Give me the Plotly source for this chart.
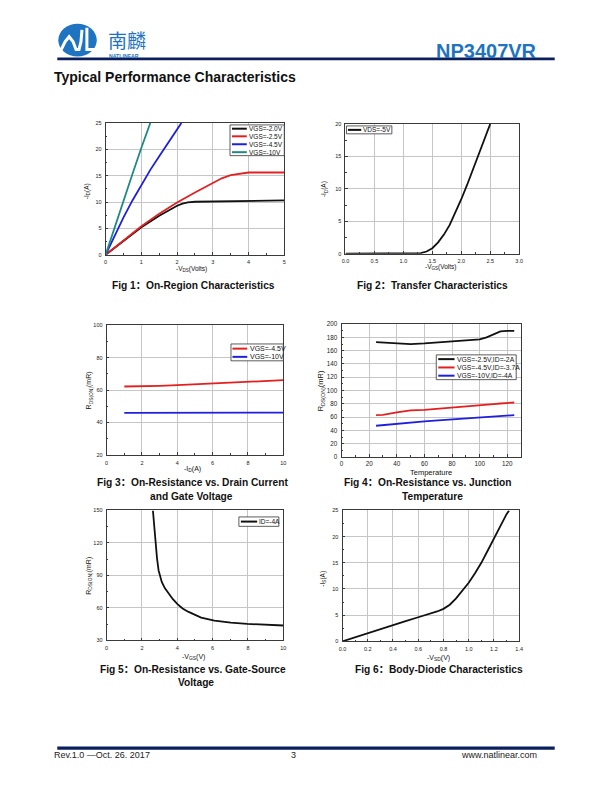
import plotly.graph_objects as go

W, H = 612, 792


def px(x):
    return x / W


def py(y):
    return 1 - y / H


# ---------------- data ----------------
# Fig 1: On-region characteristics  (-VDS vs -ID)
f1_labels = ["VGS=-2.0V", "VGS=-2.5V", "VGS=-4.5V", "VGS=-10V"]
f1_colors = ["#111111", "#e3201f", "#1f1fe0", "#1f8a84"]
f1_x_20 = [0, 0.5, 1, 1.5, 2, 2.15, 2.3, 2.5, 3, 3.5, 4, 4.5, 5]
f1_y_20 = [0, 2.65, 5.2, 7.4, 9.3, 9.7, 9.95, 10.05, 10.1, 10.15, 10.2, 10.25, 10.3]
f1_x_25 = [0, 0.5, 1, 1.5, 2, 2.5, 3, 3.25, 3.5, 3.75, 4, 4.5, 5]
f1_y_25 = [0, 2.75, 5.4, 7.8, 9.9, 11.8, 13.7, 14.5, 15.1, 15.35, 15.6, 15.6, 15.6]
f1_x_45 = [0, 0.25, 0.5, 0.75, 1, 1.25, 1.5, 1.75, 2, 2.12]
f1_y_45 = [0, 3.6, 7.1, 10.3, 13.3, 16.1, 18.7, 21.3, 23.7, 25]
f1_x_10 = [0, 0.25, 0.5, 0.75, 1, 1.25]
f1_y_10 = [0, 5.2, 10.3, 15.3, 20.3, 25]

# Fig 2: Transfer characteristics
f2_label = "VDS=-5V"
f2_vgs = [0, 0.5, 1.0, 1.2, 1.3, 1.4, 1.5, 1.6, 1.7, 1.8, 1.9, 2.0, 2.1, 2.2, 2.3, 2.4, 2.5]
f2_id = [0, 0, 0, 0.02, 0.1, 0.35, 0.85, 1.75, 2.95, 4.45, 6.3, 8.4, 10.6, 12.9, 15.2, 17.6, 20]

# Fig 3: Rds(on) vs drain current
f3_labels = ["VGS=-4.5V", "VGS=-10V"]
f3_colors = ["#e3201f", "#1f1fe0"]
f3_id = [1, 2, 3, 4, 5, 6, 7, 8, 9, 10]
f3_r45 = [62.2, 62.3, 62.6, 63.0, 63.5, 64.0, 64.5, 65.0, 65.5, 66.1]
f3_r10 = [45.9, 45.9, 46.1, 46.2, 46.2, 46.2, 46.1, 46.1, 46.1, 46.1]

# Fig 4: Rds(on) vs junction temperature
f4_labels = ["VGS=-2.5V,ID=-2A", "VGS=-4.5V,ID=-3.7A", "VGS=-10V,ID=-4A"]
f4_colors = ["#111111", "#e3201f", "#1f1fe0"]
f4_t = [25, 30, 40, 50, 60, 70, 80, 90, 100, 105, 110, 115, 120, 125]
f4_r25 = [173, 172.5, 170.5, 170, 171, 172.5, 174, 175, 177, 180, 185, 189, 190, 190]
f4_r45 = [63, 63.5, 67, 70, 71, 72.5, 74.5, 76, 77.5, 78.5, 79.5, 80.5, 81, 82]
f4_r10 = [47, 48, 50.5, 52.5, 53.5, 55, 56.5, 58, 59.5, 60.2, 61, 61.8, 62.5, 63]

# Fig 5: Rds(on) vs gate-source voltage
f5_label = "ID=-4A"
f5_vgs = [2.62, 2.7, 2.79, 2.85, 2.94, 3.05, 3.12, 3.3, 3.49, 3.75, 4.01, 4.3, 4.61,
          5.0, 5.35, 6.1, 7.03, 7.96, 8.88, 10]
f5_r = [150, 133, 119, 106, 94.6, 88, 83.9, 78, 73.3, 68, 63.5, 59.5, 56.5,
        53.5, 51, 48.3, 46.4, 45.2, 44.6, 43.7]

# Fig 6: Body-diode characteristics
f6_vsd = [0, 0.1, 0.2, 0.3, 0.4, 0.5, 0.6, 0.7, 0.75, 0.8, 0.85, 0.9, 0.95, 1.0,
          1.05, 1.1, 1.15, 1.2, 1.25, 1.3, 1.32]
f6_is = [0, 0.8, 1.6, 2.35, 3.1, 3.85, 4.6, 5.3, 5.7, 6.2, 7.0, 8.2, 9.6, 11.2,
         13.0, 15.0, 17.3, 19.7, 22.1, 24.3, 25]

captions = [
    ("Fig 1：On-Region Characteristics", 192, 284),
    ("Fig 2：Transfer Characteristics", 434, 284),
    ("Fig 3：On-Resistance vs. Drain Current", 191, 483),
    ("and Gate Voltage", 190, 497),
    ("Fig 4：On-Resistance vs. Junction", 430, 483),
    ("Temperature", 434, 497),
    ("Fig 5：On-Resistance vs. Gate-Source", 192, 671),
    ("Voltage", 195, 685),
    ("Fig 6：Body-Diode Characteristics", 441, 671),
]

# ---------------- figure ----------------
fig = go.Figure()
shapes = []
annos = []

BASE = dict(showline=True, mirror=True, linecolor="#3a3a3a", linewidth=1,
            showgrid=True, gridcolor="#c6c6c6", gridwidth=1, zeroline=False,
            ticks="inside", ticklen=2.5, tickwidth=0.8, tickcolor="#3a3a3a",
            tickfont=dict(family="Arial", size=5.5, color="#222"),
            ticklabelstandoff=2)

panels = {
    # id: (x0, y0, x1, y1) px, xrange, xdtick, yrange, ydtick, xfmt
    1: ((103, 120, 284, 253), [0, 5], 1, [0, 25], 5, None),
    2: ((346, 121, 522, 252), [0, 3], 0.5, [0, 20], 5, ".1f"),
    3: ((104, 324, 283, 455), [0, 10], 2, [20, 100], 20, None),
    4: ((342, 323, 524, 457), [0, 130], 20, [0, 200], 20, None),
    5: ((104, 511, 283, 642), [0, 10], 2, [30, 150], 30, None),
    6: ((343, 511, 522, 643), [0, 1.4], 0.2, [0, 25], 5, ".1f"),
}

layout_axes = {}
for i, (rect, xr, xd, yr, yd, xfmt) in panels.items():
    x0, y0, x1, y1 = rect
    sfx = "" if i == 1 else str(i)
    xa = dict(BASE, domain=[px(x0), px(x1)], range=xr, dtick=xd, tick0=xr[0],
              anchor="y" + sfx,
              minor=dict(ticks="inside", ticklen=1.5, tickcolor="#3a3a3a",
                         dtick=xd / 2, showgrid=False))
    ya = dict(BASE, domain=[py(y1), py(y0)], range=yr, dtick=yd, tick0=yr[0],
              anchor="x" + sfx,
              minor=dict(ticks="inside", ticklen=1.5, tickcolor="#3a3a3a",
                         dtick=yd / 2, showgrid=False))
    if xfmt:
        xa["tickformat"] = xfmt
    if i == 4:
        xa["tickfont"] = dict(family="Arial", size=6.3, color="#222")
        ya["tickfont"] = dict(family="Arial", size=6.3, color="#222")
        xa["ticklabelstandoff"] = 0
    layout_axes["xaxis" + sfx] = xa
    layout_axes["yaxis" + sfx] = ya


def line(x, y, color, ax, w=1.8):
    sfx = "" if ax == 1 else str(ax)
    fig.add_trace(go.Scatter(x=x, y=y, mode="lines", showlegend=False,
                             line=dict(color=color, width=w),
                             xaxis="x" + sfx, yaxis="y" + sfx,
                             hoverinfo="skip"))


line(f1_x_20, f1_y_20, f1_colors[0], 1)
line(f1_x_25, f1_y_25, f1_colors[1], 1)
line(f1_x_45, f1_y_45, f1_colors[2], 1)
line(f1_x_10, f1_y_10, f1_colors[3], 1)
line(f2_vgs, f2_id, "#111111", 2)
line(f3_id, f3_r45, f3_colors[0], 3)
line(f3_id, f3_r10, f3_colors[1], 3)
line(f4_t, f4_r25, f4_colors[0], 4)
line(f4_t, f4_r45, f4_colors[1], 4)
line(f4_t, f4_r10, f4_colors[2], 4)
line(f5_vgs, f5_r, "#111111", 5)
line(f6_vsd, f6_is, "#111111", 6)


def legend(box, items, lx0, lx1, tx, rows, fs=6.5):
    bx0, by0, bx1, by1 = box
    shapes.append(dict(type="rect", xref="paper", yref="paper",
                       x0=px(bx0), x1=px(bx1), y0=py(by1), y1=py(by0),
                       line=dict(color="#333", width=0.8), fillcolor="white",
                       layer="above"))
    for (lab, col), ry in zip(items, rows):
        shapes.append(dict(type="line", xref="paper", yref="paper",
                           x0=px(lx0), x1=px(lx1), y0=py(ry), y1=py(ry),
                           line=dict(color=col, width=2), layer="above"))
        annos.append(dict(text=lab, xref="paper", yref="paper", x=px(tx),
                          y=py(ry), xanchor="left", yanchor="middle",
                          showarrow=False,
                          font=dict(family="Arial", size=fs, color="#111")))


legend((229, 122, 284, 153), list(zip(f1_labels, f1_colors)), 231, 246, 246.5,
       [125.8, 133.5, 141.5, 149.5])
legend((347, 123, 393, 131), [(f2_label, "#111111")], 348.5, 362, 362, [127])
legend((230, 343, 283, 360), list(zip(f3_labels, f3_colors)), 231.5, 246.5, 247,
       [347.7, 356], fs=7)
legend((438, 354, 519, 379), list(zip(f4_labels, f4_colors)), 440, 456.5, 457,
       [358.3, 366.7, 375], fs=6.8)
legend((238, 517.5, 278.5, 527), [(f5_label, "#111111")], 240, 256.5, 256.5,
       [522.2])


def text(t, x, y, size, anchor="center", bold=False, color="#111", angle=0,
         family="Arial"):
    annos.append(dict(text=("<b>%s</b>" % t) if bold else t, xref="paper",
                      yref="paper", x=px(x), y=py(y), xanchor=anchor,
                      yanchor="middle", showarrow=False, textangle=angle,
                      font=dict(family=family, size=size, color=color)))


# axis titles
text("-V<sub>DS</sub>(Volts)", 190, 267, 6.5)
text("-I<sub>D</sub>(A)", 84, 189, 6.5, angle=-90)
text("-V<sub>GS</sub>(Volts)", 443, 265, 6.5)
text("-I<sub>D</sub>(A)", 325, 187, 6.5, angle=-90)
text("-I<sub>D</sub>(A)", 191, 469, 7)
text("R<sub>DS(ON)</sub>(mR)", 86, 390, 7, angle=-90)
text("Temperature", 433, 473, 7.5)
text("R<sub>DS(ON)</sub>(mR)", 321, 390, 7.5, angle=-90)
text("-V<sub>GS</sub>(V)", 192, 659, 7)
text("R<sub>DS(ON)</sub>(mR)", 86, 577, 7, angle=-90)
text("-V<sub>SD</sub>(V)", 440, 660, 7)
text("-I<sub>S</sub>(A)", 323, 580, 6.5, angle=-90)

# captions
for t, x, y in captions:
    text(t, x, y, 10.2, bold=True, family="Arial, 'Noto Sans CJK SC'")

# header
NAVY = "#0b1f5c"
BLUE = "#1f74c2"
shapes.append(dict(type="rect", xref="paper", yref="paper", x0=px(54), x1=px(558),
                   y0=py(56.7), y1=py(54), fillcolor=NAVY, line=dict(width=0)))
shapes.append(dict(type="circle", xref="paper", yref="paper", x0=px(55), x1=px(94),
                   y0=py(53), y1=py(20), fillcolor=BLUE, line=dict(width=0)))
# white wave of the logo (drawn in pixel space)
wave = [(58, 46), (62, 38), (66, 33), (70, 38), (73, 46), (76, 46), (78, 38),
        (79, 26)]
path = "M " + " L ".join("%f,%f" % (px(a), py(b)) for a, b in wave)
shapes.append(dict(type="path", xref="paper", yref="paper", path=path,
                   line=dict(color="white", width=3)))
path2 = "M %f,%f L %f,%f L %f,%f" % (px(84), py(24), px(84), py(46), px(92), py(46))
shapes.append(dict(type="path", xref="paper", yref="paper", path=path2,
                   line=dict(color="white", width=3)))
text("南麟", 103, 36, 19, anchor="left", color=BLUE, family="Noto Sans CJK SC")
text("<b>NATLINEAR</b>", 104.5, 52.5, 5.2, anchor="left", color=BLUE)
text("<b>NP3407VR</b>", 542, 47, 20, anchor="right", color=BLUE)
text("Typical Performance Characteristics", 49, 74, 14, anchor="left", bold=True)

# footer
shapes.append(dict(type="rect", xref="paper", yref="paper", x0=px(54), x1=px(558),
                   y0=py(752.5), y1=py(749), fillcolor=NAVY, line=dict(width=0)))
text("Rev.1.0 —Oct. 26. 2017", 49, 758, 9, anchor="left", color="#222",
     family="Arial, 'Noto Sans CJK SC'")
text("3", 293, 758, 9, color="#222")
text("www.natlinear.com", 542, 758, 9, anchor="right", color="#222")

fig.update_layout(width=W, height=H, margin=dict(l=0, r=0, t=0, b=0),
                  paper_bgcolor="white", plot_bgcolor="white",
                  shapes=shapes, annotations=annos, showlegend=False,
                  **layout_axes)

fig.write_html("out.html", config={"displayModeBar": False},
               post_script="document.body.style.margin='0';"
                           "document.body.style.overflow='hidden';")
